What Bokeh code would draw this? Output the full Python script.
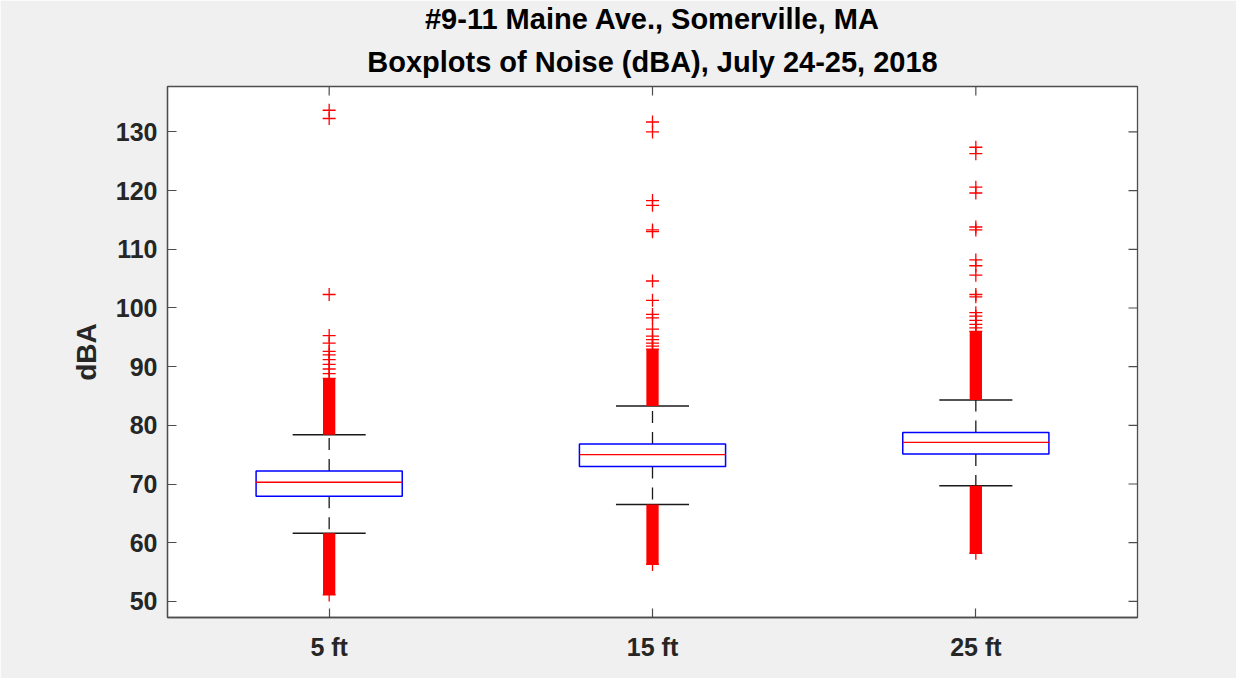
from bokeh.plotting import figure
from bokeh.models import Range1d, FixedTicker, Title, ColumnDataSource
from bokeh.embed import file_html
from bokeh.resources import INLINE

# ---------------- data ----------------
categories = ["5 ft", "15 ft", "25 ft"]
q1 = [67.9, 73.0, 75.1]
median = [70.3, 75.0, 77.1]
q3 = [72.2, 76.8, 78.8]
whisker_lo = [61.6, 66.5, 69.7]
whisker_hi = [78.4, 83.3, 84.3]
# dense outlier runs (continuous red columns)
low_run_bottom = [51.1, 56.3, 58.2]
high_run_top = [88.0, 93.0, 96.0]
# individual outliers
outliers_5ft = [88.8, 89.6, 90.4, 91.2, 92.0, 92.6, 94.0, 95.3, 102.3, 132.3, 133.7]
outliers_15ft = [93.5, 94.0, 94.6, 95.2, 96.4, 98.3, 98.9, 101.3, 104.6,
                 113.0, 113.3, 117.5, 118.3, 130.0, 131.7]
outliers_25ft = [96.6, 97.2, 97.9, 98.6, 99.2, 101.9, 102.3, 105.6, 107.2, 108.2,
                 113.3, 113.8, 119.6, 120.6, 126.3, 127.4]
y_ticks = [50, 60, 70, 80, 90, 100, 110, 120, 130]
y_limits = (47.25, 137.75)
x_limits = (0.5, 3.5)

title_line1 = "#9-11 Maine Ave., Somerville, MA"
title_line2 = "Boxplots of Noise (dBA), July 24-25, 2018"
y_label = "dBA"

# ---------------- styling ----------------
FONT = "Liberation Sans"
TXT = "#262626"
AXC = "#4d4d4d"
BOX_HW = 0.226
CAP_HW = 0.113
RUN_W = 0.038
W, H = 1236, 678
BL, BR, BT, BB = 167, 99, 86, 61
TICK = 9  # px

positions = list(range(1, len(categories) + 1))

p = figure(width=W, height=H, output_backend="svg", toolbar_location=None,
           title=None, x_range=Range1d(*x_limits), y_range=Range1d(*y_limits),
           min_border_left=BL, min_border_right=BR, min_border_top=BT,
           min_border_bottom=BB, background_fill_color="white",
           border_fill_color="#f0f0f0", outline_line_color=AXC,
           outline_line_width=1.3)
p.xgrid.visible = False
p.ygrid.visible = False

# axes
xa = p.xaxis[0]
xa.ticker = FixedTicker(ticks=positions)
xa.major_label_overrides = {pos: c for pos, c in zip(positions, categories)}
ya = p.yaxis[0]
ya.ticker = FixedTicker(ticks=y_ticks)
ya.axis_label = y_label

for ax in (xa, ya):
    ax.major_tick_in = TICK
    ax.major_tick_out = 0
    ax.minor_tick_line_color = None
    ax.major_tick_line_color = AXC
    ax.major_tick_line_width = 1.2
    ax.axis_line_color = AXC
    ax.axis_line_width = 1.3
    ax.major_label_text_font = FONT
    ax.major_label_text_font_style = "bold"
    ax.major_label_text_font_size = "25px"
    ax.major_label_text_color = TXT
    ax.axis_label_text_font = FONT
    ax.axis_label_text_font_style = "bold"
    ax.axis_label_text_font_size = "28px"
    ax.axis_label_text_color = TXT
xa.major_label_standoff = 15
ya.major_label_standoff = 10
ya.axis_label_standoff = 11

# two title lines, centred over the plot frame
p.add_layout(Title(text=title_line2, align="center", text_font=FONT,
                   text_font_style="bold", text_font_size="29px",
                   text_color="#000000", text_line_height=0.85, standoff=18),
             "above")
p.add_layout(Title(text=title_line1, align="center", text_font=FONT,
                   text_font_style="bold", text_font_size="29px",
                   text_color="#000000", text_line_height=0.85, standoff=0),
             "above")

fw = W - BL - BR
fh = H - BT - BB
ux = (x_limits[1] - x_limits[0]) / fw   # data units per pixel
uy = (y_limits[1] - y_limits[0]) / fh

# mirrored ticks on the top and right edges (pointing inside)
p.segment(x0=[x_limits[1]] * len(y_ticks), x1=[x_limits[1] - TICK * ux] * len(y_ticks),
          y0=y_ticks, y1=y_ticks, line_color=AXC, line_width=1.2)
p.segment(x0=positions, x1=positions, y0=[y_limits[1]] * len(positions),
          y1=[y_limits[1] - TICK * uy] * len(positions), line_color=AXC, line_width=1.2)

src = ColumnDataSource(dict(x=positions, q1=q1, q3=q3, med=median,
                            wlo=whisker_lo, whi=whisker_hi,
                            lrb=low_run_bottom, hrt=high_run_top,
                            left=[x - BOX_HW for x in positions],
                            right=[x + BOX_HW for x in positions],
                            cl=[x - CAP_HW for x in positions],
                            cr=[x + CAP_HW for x in positions]))
# whiskers (dashed)
p.segment(x0="x", y0="q3", x1="x", y1="whi", source=src, line_color="#1a1a1a",
          line_width=1.3, line_dash="12 9")
p.segment(x0="x", y0="q1", x1="x", y1="wlo", source=src, line_color="#1a1a1a",
          line_width=1.3, line_dash="12 9")
# caps
p.segment(x0="cl", y0="whi", x1="cr", y1="whi", source=src, line_color="#1a1a1a",
          line_width=1.5)
p.segment(x0="cl", y0="wlo", x1="cr", y1="wlo", source=src, line_color="#1a1a1a",
          line_width=1.5)

# dense outlier runs
p.vbar(x="x", bottom="lrb", top="wlo", width=RUN_W, source=src,
       fill_color="#ff0000", line_color=None)
p.vbar(x="x", bottom="whi", top="hrt", width=RUN_W, source=src,
       fill_color="#ff0000", line_color=None)
p.scatter(x=positions, y=low_run_bottom, marker="cross", size=13,
          line_color="#ff0000", line_width=1.3)
p.scatter(x=positions, y=high_run_top, marker="cross", size=13,
          line_color="#ff0000", line_width=1.3)

# individual outliers
ox, oy = [], []
for pos, vals in zip(positions, [outliers_5ft, outliers_15ft, outliers_25ft]):
    ox += [pos] * len(vals)
    oy += vals
p.scatter(x=ox, y=oy, marker="cross", size=13, line_color="#ff0000", line_width=1.3)

# boxes and medians
p.quad(left="left", right="right", bottom="q1", top="q3", source=src,
       fill_color="white", line_color="#0000ff", line_width=1.5)
p.segment(x0="left", y0="med", x1="right", y1="med", source=src,
          line_color="#ff0000", line_width=1.3)

open("out.html", "w").write(file_html(p, INLINE))
